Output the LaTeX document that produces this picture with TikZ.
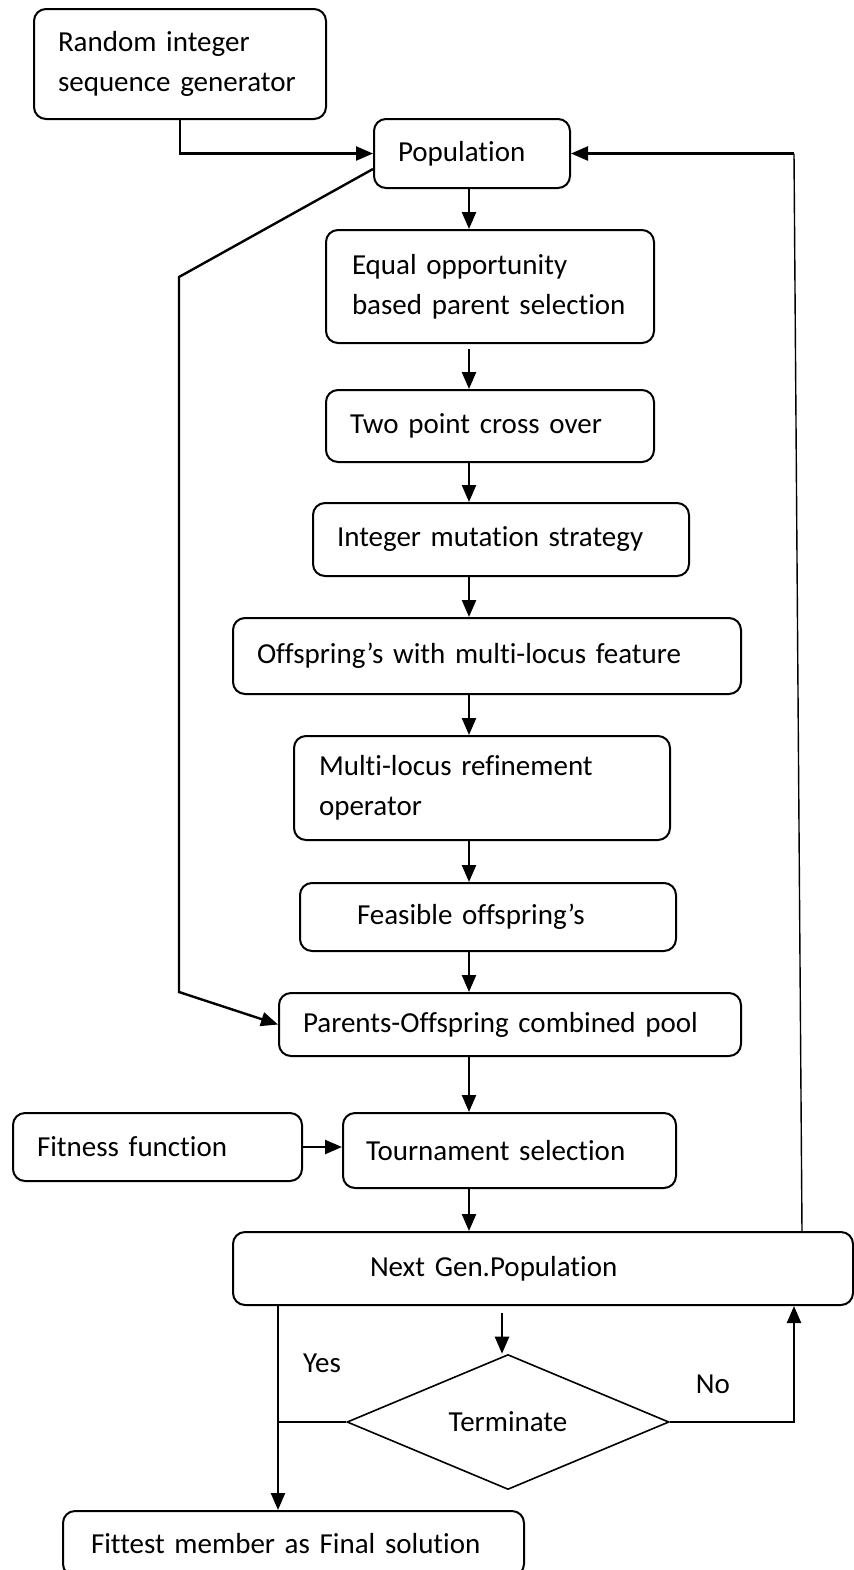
\documentclass[tikz,border=0pt]{standalone}
\usepackage{fontspec}
\setmainfont{Carlito}[Ligatures=NoCommon]
\usetikzlibrary{arrows.meta,shapes.geometric}

\tikzset{
  stage/.style={draw,rounded corners=6pt,line width=1pt,anchor=west,align=left,inner ysep=0pt},
  decision/.style={draw,diamond,line width=0.8pt,inner sep=0pt,aspect=2.4},
  flow/.style={line width=1.2pt,-{Triangle[length=8.5pt,width=7pt]}},
  link/.style={line width=0.8pt},
  tag/.style={inner sep=0pt},
}

\begin{document}
\begin{tikzpicture}[x=0.5pt,y=-0.5pt,font=\fontsize{14.5pt}{20pt}\selectfont]
\useasboundingbox (0,0) rectangle (853,1570);
% boxes, placed by left edge and centre height
\node[stage,minimum height=55pt,inner xsep=12pt,text width=122pt] (rand) at (33,64) {Random integer\\sequence generator};
\node[stage,minimum height=34.5pt,inner xsep=12pt,text width=74pt] (pop) at (373,153.5) {Population};
\node[stage,minimum height=56.5pt,inner xsep=13pt,text width=138pt] (equal) at (325,286.5) {Equal opportunity\\based parent selection};
\node[stage,minimum height=36pt,inner xsep=12pt,text width=140pt] (two) at (325,426) {Two point cross over};
\node[stage,minimum height=36.5pt,inner xsep=12pt,text width=164pt] (intm) at (312,539.5) {Integer mutation strategy};
\node[stage,minimum height=38pt,inner xsep=12pt,text width=230pt] (offm) at (232,656) {Offspring’s with multi-locus feature};
\node[stage,minimum height=52pt,inner xsep=12.5pt,text width=163pt] (refine) at (293,788) {Multi-locus refinement\\operator};
\node[stage,minimum height=34pt,inner xsep=28.5pt,text width=131pt] (feas) at (299,917) {Feasible offspring’s};
\node[stage,minimum height=31.5pt,inner xsep=12pt,text width=207pt] (pool) at (278,1024.5) {Parents-Offspring combined pool};
\node[stage,minimum height=34pt,inner xsep=12pt,text width=120.5pt] (fit) at (12,1147) {Fitness function};
\node[stage,minimum height=37.5pt,inner xsep=11.5pt,text width=143.5pt] (tour) at (342,1150.5) {Tournament selection};
\node[stage,minimum height=36.5pt,inner xsep=68.5pt,text width=173pt] (next) at (232,1268.5) {Next Gen.Population};
\node[decision,minimum width=161pt,minimum height=67.5pt] (term) at (508,1422) {Terminate};
\node[stage,minimum height=32.5pt,inner xsep=14pt,text width=202.5pt] (fittest) at (62,1543.5) {Fittest member as Final solution};
\node[tag] (yes) at (322,1363) {Yes};
\node[tag] (no) at (713,1384) {No};
% helper points
\coordinate (spine) at (469,0);
\coordinate (lp1) at (179,277);
\coordinate (lp2) at (179,992);
\coordinate (fb) at (794,153.5);
\coordinate (fbx) at (802,0);
\coordinate (tq) at (502,1313);
\coordinate (yx) at (278,0);
\coordinate (nx) at (794,0);
% main chain
\draw[flow] (rand.south) |- (pop.west);
\draw[flow] (pop.south -| spine) -- (equal.north -| spine);
\draw[flow,shorten <=2.5pt] (equal.south -| spine) -- (two.north -| spine);
\draw[flow] (two.south -| spine) -- (intm.north -| spine);
\draw[flow] (intm.south -| spine) -- (offm.north -| spine);
\draw[flow] (offm.south -| spine) -- (refine.north -| spine);
\draw[flow] (refine.south -| spine) -- (feas.north -| spine);
\draw[flow] (feas.south -| spine) -- (pool.north -| spine);
\draw[flow] (pool.south -| spine) -- (tour.north -| spine);
\draw[flow] (fit.east) -- (tour.west |- fit.east);
\draw[flow] (tour.south -| spine) -- (next.north -| spine);
% parents carried to the pool
\draw[flow] (pop.west |- 0,169) -- (lp1) -- (lp2) -- (pool.west);
% back to population
\draw[link,line width=0.7pt] (next.north -| fbx) -- (fb);
\draw[flow] (fb) -- (pop.east);
% termination test
\draw[flow] (tq) -- (tq |- term.north);
\draw[link] (term.west) -- (term.west -| yx);
\draw[flow] (next.south -| yx) -- (fittest.north -| yx);
\draw[flow] (term.east) -| (next.south -| nx);
\end{tikzpicture}
\end{document}
